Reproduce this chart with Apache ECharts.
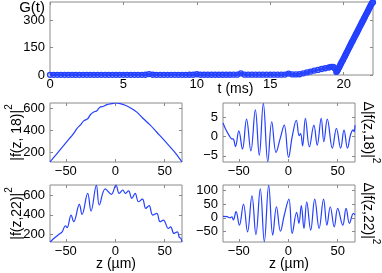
<!DOCTYPE html>
<html><head><meta charset="utf-8">
<script src="https://cdn.jsdelivr.net/npm/echarts@6/dist/echarts.min.js"></script>
<style>html,body{margin:0;padding:0;background:#fff}#c{width:382px;height:273px}</style>
</head><body><div id="c"></div>
<script>
// ---- Top panel: G(t) ----
const tValues = [0,0.25,0.5,0.75,1,1.25,1.5,1.75,2,2.25,2.5,2.75,3,3.25,3.5,3.75,4,4.25,4.5,4.75,5,5.25,5.5,5.75,6,6.25,6.5,6.75,7,7.25,7.5,7.75,8,8.25,8.5,8.75,9,9.25,9.5,9.75,10,10.25,10.5,10.75,11,11.25,11.5,11.75,12,12.25,12.5,12.75,13,13.25,13.5,13.75,14,14.25,14.5,14.75,15,15.25,15.5,15.75,16,16.25,16.5,16.75,17,17.25,17.5,17.75,18,18.25,18.5,18.75,19,19.15,19.3,19.4,19.5,19.55,19.6,19.65,19.7,19.75,19.8,19.85,19.9,19.95,20,20.05,20.1,20.15,20.2,20.25,20.3,20.35,20.4,20.45,20.5,20.55,20.6,20.65,20.7,20.75,20.8,20.85,20.9,20.95,21,21.05,21.1,21.15,21.2,21.25,21.3,21.35,21.4,21.45,21.5,21.55,21.6,21.65,21.7,21.75,21.8,21.85,21.9,21.95,22];
const gValues = [1,1,1,1,1,1,1,1,1,1,1,1,1,1,1,1,1,1,1,1,1,1,1,1,1,1,1.5,5,1.5,1,1,1,1,1,1,1,1,1,1.5,1.5,4,1.5,1.5,1.5,1.5,1.5,1.5,1.5,1.5,1.5,2,2,9,2,2,2,2,2,2,2,2,2,2,2,2.5,8,3,3,4,9,14,19,24,28,33,37,41,44,45,36,17,20,27,35,43,51,59,67,75,82,90,98,106,114,122,130,138,146,154,162,170,178,185,193,201,209,217,225,232,240,248,256,264,272,280,288,295,303,311,319,327,335,342,350,358,366,374,382,389,396,398];
const tRange = [0, 22], gRange = [0, 400];
const tTicks = [0, 5, 10, 15, 20], gTicks = [0, 150, 300];

// ---- |f(z,18)|^2 ----
const zF18 = [-66,-60,-55,-50,-45,-42,-38.6,-35.2,-31.9,-27.9,-25.2,-21.8,-18.5,-15.8,-11.8,-8.4,-3.4,0,5,10.1,16.8,21.8,28.5,35.2,42,48.7,55.4,62.1,67.5];
const f18 = [115,180,234,288,342,375,421,452,489,508,545,569,582,612,622,637,646,652,646,631,600,569,508,452,385,320,252,182,114];
// ---- Delta |f(z,18)|^2 ----
const zD18 = [-66,-63,-60,-57.5,-55.5,-53.4,-50,-46.3,-42.2,-37.8,-33.3,-29.3,-25.2,-20.7,-16.7,-12.3,-8.2,-4.1,0.3,4,8.2,11,12.5,14.5,17.3,21.4,25.9,29.3,33.3,36,39.5,44.6,48.7,53,56.4,59.9,63,65.6,66.6,67.5];
const d18 = [3.6,1.8,0.4,-0.5,-0.6,-2.6,1.5,-3.2,4.6,-3.7,7,-4.8,8.7,-6.5,3.9,-4.1,-0.5,3,-5.4,0,4.3,0.3,0.8,-2.4,4.8,-2.6,3,-2.2,4.8,-1.3,4.6,-3,2.2,-3,1.7,-3,0.5,1.8,1.3,3];
// ---- |f(z,22)|^2 ----
const zF22 = [-66,-61,-57.1,-53.7,-50.4,-48.7,-44.7,-42,-36.3,-33.6,-27.9,-24.5,-19.1,-16.1,-10.1,-4,0.7,4,7.7,10.1,13.4,16.8,20.1,23.5,27.5,30.9,34.2,37.9,42,45.3,48.7,53.7,56,59.4,62.8,64.8,66.2,67.5];
const f22 = [118,165,196,224,287,266,398,329,510,405,624,440,708,503,670,614,711,624,659,624,649,572,624,537,565,468,496,398,416,329,346,259,276,207,224,165,160,120];
// ---- Delta |f(z,22)|^2 ----
const zD22 = [-66,-62,-59,-57,-55.5,-52.8,-49.4,-45.3,-41.2,-36.7,-32.7,-28.3,-24.2,-19.8,-15.7,-11.9,-7.9,-4,0.6,4,8.5,10.8,13.2,15.9,18.7,22.7,26.8,31.2,35.7,39.1,42.5,46.5,50,55.1,58.5,61.9,65.9,67.5];
const d22 = [5,4,0,3,-8,22,-27,50,-51,80,-61,105,-87,118,-63,40,-49,10,68,-57,20,-20,44,-39,58,-45,68,-39,68,-27,40,-33,34,-27,34,-20,16,10];

const zRange = [-66, 67.5];
const zTicks = [-50, 0, 50];
const f18Range = [114, 652], f18Ticks = [200, 400, 600];
const d18Range = [-6.6, 8.8], d18Ticks = [-5, 0, 5];
const f22Range = [118, 711], f22Ticks = [200, 400, 600];
const d22Range = [-88, 119], d22Ticks = [-50, 0, 50, 100];

const FONT = 'Liberation Sans, Arial, Helvetica, sans-serif';
const FRAME = '#8a8a8a';
const BLUE = '#2440ff';
const minus = v => String(v).replace('-', '\u2212');
const richName = {
  a: {fontSize: 14, lineHeight: 20, verticalAlign: 'bottom', fontFamily: FONT, color: '#000'},
  s: {fontSize: 10, lineHeight: 10, verticalAlign: 'top', fontFamily: FONT, color: '#000'}
};

const grids = [], xAxes = [], yAxes = [], series = [];
const noLine = {show: false, onZero: false};
function tick(vals){ return {show: true, inside: true, length: 3, customValues: vals, lineStyle: {color: FRAME, width: 1}}; }
function panel(box, xr, xt, yr, yt, o) {
  const gi = grids.length;
  grids.push({left: box[0], top: box[1], width: box[2], height: box[3], show: true, borderColor: FRAME, borderWidth: 1, containLabel: false, outerBoundsMode: 'none', backgroundColor: 'transparent'});
  const lab = (vals, m) => ({show: true, customValues: vals, margin: m, fontSize: 13, fontFamily: FONT, color: '#000', formatter: minus});
  const base = {type: 'value', axisLine: noLine, splitLine: {show: false}, nameMoveOverlap: false};
  xAxes.push(Object.assign({}, base, {gridIndex: gi, min: xr[0], max: xr[1], position: 'bottom', axisTick: tick(xt), axisLabel: lab(xt, 3)}, o.xName || {}));
  xAxes.push(Object.assign({}, base, {gridIndex: gi, min: xr[0], max: xr[1], position: 'top', axisTick: tick(xt), axisLabel: {show: false}}));
  yAxes.push(Object.assign({}, base, {gridIndex: gi, min: yr[0], max: yr[1], position: 'left', axisTick: tick(yt), axisLabel: lab(yt, 5)}, o.yName || {}));
  yAxes.push(Object.assign({}, base, {gridIndex: gi, min: yr[0], max: yr[1], position: 'right', axisTick: tick(yt), axisLabel: {show: false}}, o.rName || {}));
  return gi;
}

// Top
let g = panel([50, 2, 323, 73], tRange, tTicks, gRange, gTicks, {
  xName: {name: 't (ms)', nameLocation: 'middle', nameGap: 7, nameTextStyle: {fontSize: 14, fontFamily: FONT, color: '#000', padding: [0, 0, 0, 48]}},
  yName: {name: 'G(t)', nameLocation: 'end', nameGap: -6, nameTextStyle: {fontSize: 15, fontFamily: FONT, color: '#000', align: 'right', verticalAlign: 'middle', padding: [0, 5, 0, 0]}}
});
series.push({type: 'line', xAxisIndex: 2*g, yAxisIndex: 2*g, data: tValues.map((t, i) => [t, gValues[i]]), symbol: 'circle', symbolSize: 5, itemStyle: {color: 'rgba(60,90,255,0.25)', borderColor: BLUE, borderWidth: 1.3}, lineStyle: {color: BLUE, width: 3}, silent: true});

const yNameL = n => ({name: n, nameLocation: 'middle', nameRotate: 90, nameGap: 26, nameTextStyle: {rich: richName}});
const yNameR = n => ({name: n, nameLocation: 'middle', nameRotate: -90, nameGap: 6, nameTextStyle: {rich: richName}});
const zName = {name: 'z (\u00b5m)', nameLocation: 'middle', nameGap: 15, nameTextStyle: {fontSize: 14, fontFamily: FONT, color: '#000'}};

g = panel([50, 103, 132, 59], zRange, zTicks, f18Range, f18Ticks, {yName: yNameL('{a||f(z, 18)|}{s|2}')});
series.push({type: 'line', xAxisIndex: 2*g, yAxisIndex: 2*g, data: zF18.map((z, i) => [z, f18[i]]), smooth: 0.3, showSymbol: false, lineStyle: {color: BLUE, width: 1.2}});
g = panel([223, 103, 132, 59], zRange, zTicks, d18Range, d18Ticks, {rName: yNameR('{a|\u0394|f(z,18)|}{s|2}')});
series.push({type: 'line', xAxisIndex: 2*g, yAxisIndex: 2*g, data: zD18.map((z, i) => [z, d18[i]]), smooth: 0.4, showSymbol: false, lineStyle: {color: BLUE, width: 1.2}});
g = panel([50, 185, 132, 57], zRange, zTicks, f22Range, f22Ticks, {xName: zName, yName: yNameL('{a||f(z,22)|}{s|2}')});
series.push({type: 'line', xAxisIndex: 2*g, yAxisIndex: 2*g, data: zF22.map((z, i) => [z, f22[i]]), smooth: 0.4, showSymbol: false, lineStyle: {color: BLUE, width: 1.2}});
g = panel([223, 185, 132, 57], zRange, zTicks, d22Range, d22Ticks, {xName: zName, rName: yNameR('{a|\u0394|f(z,22)|}{s|2}')});
series.push({type: 'line', xAxisIndex: 2*g, yAxisIndex: 2*g, data: zD22.map((z, i) => [z, d22[i]]), smooth: 0.4, showSymbol: false, lineStyle: {color: BLUE, width: 1.2}});

const chart = echarts.init(document.getElementById('c'), null, {renderer: 'canvas'});
chart.setOption({animation: false, backgroundColor: '#fff', grid: grids, xAxis: xAxes, yAxis: yAxes, series: series});
</script></body></html>
